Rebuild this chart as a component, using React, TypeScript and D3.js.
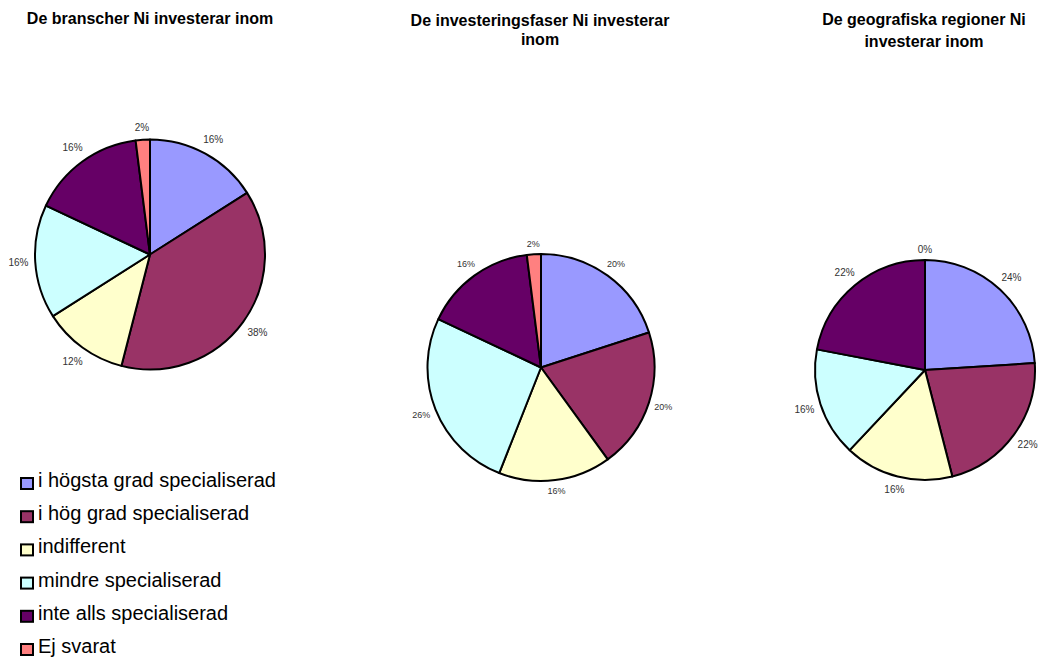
import React from "react";
import * as d3 from "d3";

const categories = [
  "i högsta grad specialiserad",
  "i hög grad specialiserad",
  "indifferent",
  "mindre specialiserad",
  "inte alls specialiserad",
  "Ej svarat",
];
const colors = ["#9999FF", "#993366", "#FFFFCC", "#CCFFFF", "#660066", "#FF8080"];

const branscher = [16, 38, 12, 16, 16, 2];
const faser = [20, 20, 16, 26, 16, 2];
const regioner = [24, 22, 16, 16, 22, 0];

const titleBranscher = ["De branscher Ni investerar inom"];
const titleFaser = ["De investeringsfaser Ni investerar", "inom"];
const titleRegioner = ["De geografiska regioner Ni", "investerar inom"];

const FONT = "'Liberation Sans', Arial, Helvetica, sans-serif";

type PieSpec = {
  values: number[];
  title: string[];
  cx: number;
  cy: number;
  r: number;
  gap: number;
  labelSize: number;
  titleX: number;
  titleY: number;
  lineH: number;
};

const pies: PieSpec[] = [
  { values: branscher, title: titleBranscher, cx: 150, cy: 254.5, r: 115, gap: 6.5, labelSize: 10, titleX: 150, titleY: 24, lineH: 19 },
  { values: faser, title: titleFaser, cx: 541, cy: 367.5, r: 113.5, gap: 5, labelSize: 9, titleX: 540, titleY: 26, lineH: 19 },
  { values: regioner, title: titleRegioner, cx: 925, cy: 370, r: 110, gap: 5.5, labelSize: 10, titleX: 924, titleY: 25, lineH: 21.5 },
];

function Pie({ spec }: { spec: PieSpec }) {
  const pieGen = d3.pie<number>().sort(null).value((d) => d);
  const arcs = pieGen(spec.values);
  const arcGen = d3.arc<d3.PieArcDatum<number>>().innerRadius(0).outerRadius(spec.r);
  return (
    <g>
      {spec.title.map((line, i) => (
        <text
          key={i}
          x={spec.titleX}
          y={spec.titleY + i * spec.lineH}
          textAnchor="middle"
          fontFamily={FONT}
          fontWeight="bold"
          fontSize={16}
          fill="#000"
        >
          {line}
        </text>
      ))}
      <g transform={`translate(${spec.cx},${spec.cy})`}>
        {arcs.map((a, i) =>
          a.value > 0 ? (
            <path key={i} d={arcGen(a) || ""} fill={colors[i]} stroke="#000" strokeWidth={2} strokeLinejoin="round" />
          ) : null
        )}
        {arcs.map((a, i) => {
          const label = `${a.value}%`;
          const mid = (a.startAngle + a.endAngle) / 2;
          const s = Math.sin(mid);
          const c = Math.cos(mid);
          const w = ((label.length - 1) * 0.556 + 0.889) * spec.labelSize;
          const h = spec.labelSize * 1.1;
          const ext = Math.abs(s) * (w / 2) + Math.abs(c) * (h / 2);
          const d = spec.r + spec.gap + ext;
          return (
            <text
              key={"l" + i}
              x={s * d}
              y={-c * d}
              textAnchor="middle"
              dominantBaseline="central"
              fontFamily={FONT}
              fontSize={spec.labelSize}
              fill="#333"
            >
              {label}
            </text>
          );
        })}
      </g>
    </g>
  );
}

export default function App() {
  const legendY0 = 487;
  const legendStep = 33.2;
  return (
    <svg
      width={1039}
      height={657}
      style={{ position: "absolute", left: 0, top: 0, background: "#fff" }}
    >
      <rect x={0} y={0} width={1039} height={657} fill="#fff" />
      {pies.map((p, i) => (
        <Pie key={i} spec={p} />
      ))}
      <g>
        {categories.map((c, i) => {
          const base = legendY0 + i * legendStep;
          return (
            <g key={c}>
              <rect x={21} y={base - 9} width={12} height={11} fill={colors[i]} stroke="#000" strokeWidth={2} />
              <text x={38} y={base} fontFamily={FONT} fontSize={20} fill="#000">
                {c}
              </text>
            </g>
          );
        })}
      </g>
    </svg>
  );
}
